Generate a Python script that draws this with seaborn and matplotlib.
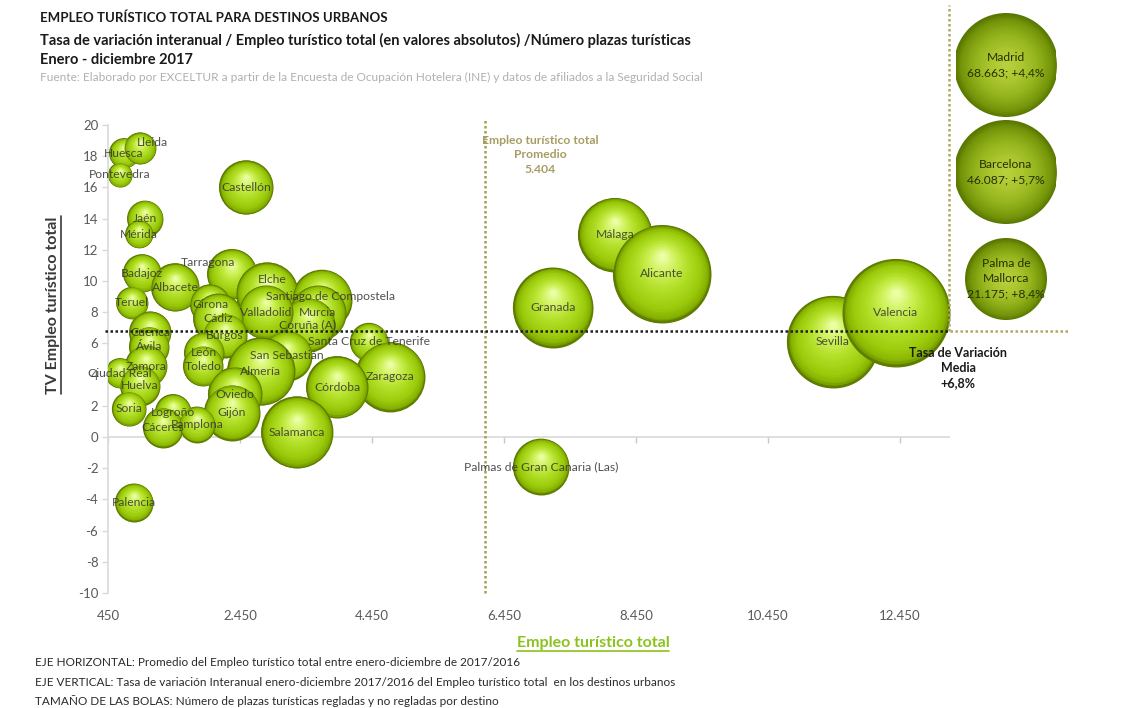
import numpy as np
import pandas as pd
import matplotlib
matplotlib.use("Agg")
import matplotlib.pyplot as plt
import seaborn as sns
from matplotlib import transforms
from matplotlib.lines import Line2D
from matplotlib.colors import to_rgb

# ---------------- data ----------------
ciudades = ["Huesca", "Lleida", "Pontevedra", "Castellón", "Jaén", "Mérida", "Badajoz",
            "Albacete", "Teruel", "Tarragona", "Elche", "Santiago de Compostela", "Murcia",
            "Coruña (A)", "Valladolid", "Girona", "Cádiz", "Burgos", "Santa Cruz de Tenerife",
            "San Sebastián", "Almería", "León", "Toledo", "Zaragoza", "Córdoba", "Oviedo",
            "Gijón", "Salamanca", "Cuenca", "Ávila", "Zamora", "Ciudad Real", "Huelva",
            "Soria", "Logroño", "Cáceres", "Pamplona", "Palencia", "Granada", "Málaga",
            "Alicante", "Sevilla", "Valencia", "Palmas de Gran Canaria (Las)"]
empleo = [692, 935, 632, 2541, 1011, 920, 965, 1465, 814, 2329, 2859, 3692, 3632,
          3480, 2844, 1995, 2117, 2223, 4404, 3162, 2768, 1905, 1889, 4723, 3920, 2374,
          2329, 3314, 1086, 1071, 1026, 632, 935, 768, 1435, 1283, 1798, 844, 7192, 8132,
          8844, 11435, 12389, 7011]
tv_empleo = [18.2, 18.5, 16.8, 16.0, 14.0, 13.0, 10.5, 9.6, 8.6, 10.45, 9.2, 8.8, 7.95,
             7.2, 8.0, 8.5, 7.6, 6.5, 6.1, 5.2, 4.2, 5.4, 4.55, 3.85, 3.2, 2.75,
             1.55, 0.3, 6.7, 5.8, 4.55, 4.1, 3.3, 1.8, 1.6, 0.6, 0.8, -4.2, 8.3, 12.95,
             10.45, 6.1, 7.95, -1.9]
plazas = [2900, 3300, 1900, 9500, 4200, 2500, 4700, 7500, 3300, 8100, 12500, 11700, 10200,
          9500, 9500, 5200, 8100, 6300, 4700, 8100, 15000, 5200, 5200, 15900, 12500, 9500,
          10200, 16800, 5700, 5200, 5700, 2900, 5200, 3800, 4200, 5200, 4200, 4700, 20800,
          17800, 31200, 27500, 37900, 10200]

media_tv = 6.8
linea_promedio_x = 6160
promedio_texto = "Empleo turístico total\nPromedio\n5.404"
media_texto = "Tasa de Variación\nMedia\n+6,8%"

fuera_ciudades = ["Madrid", "Barcelona", "Palma de\nMallorca"]
fuera_empleo = ["68.663", "46.087", "21.175"]
fuera_tv = ["+4,4%", "+5,7%", "+8,4%"]
fuera_radio = [52, 52, 41]

x_ticks = [450, 2450, 4450, 6450, 8450, 10450, 12450]
y_ticks = list(range(-10, 21, 2))

titulo = ["EMPLEO TURÍSTICO TOTAL PARA DESTINOS URBANOS",
          "Tasa de variación interanual / Empleo turístico total (en valores absolutos) /Número plazas turísticas",
          "Enero - diciembre 2017"]
fuente = "Fuente: Elaborado por EXCELTUR a partir de la Encuesta de Ocupación Hotelera (INE) y datos de afiliados a la Seguridad Social"
notas = ["EJE HORIZONTAL: Promedio del Empleo turístico total entre enero-diciembre de 2017/2016",
         "EJE VERTICAL: Tasa de variación Interanual enero-diciembre 2017/2016 del Empleo turístico total  en los destinos urbanos",
         "TAMAÑO DE LAS BOLAS: Número de plazas turísticas regladas y no regladas por destino"]

label_offsets = {"Tarragona": (-17, 8), "Lleida": (9, 4), "Elche": (4, 10),
                 "Santiago de Compostela": (6, 2)}

# ---------------- style ----------------
sns.set_theme(style="white")
FONT = ["Lato", "DejaVu Sans"]
plt.rcParams["font.family"] = FONT
plt.rcParams["axes.unicode_minus"] = False

W, H = 1126, 708
fig = plt.figure(figsize=(W / 100, H / 100), dpi=100)


def fx(x):
    return x / W


def fy(y):
    return 1 - y / H


ax = fig.add_axes([fx(108), fy(593), (950 - 108) / W, (593 - 125) / H])

df = pd.DataFrame({"ciudad": ciudades, "empleo": empleo, "tv": tv_empleo, "plazas": plazas})
k = 2.0736 / 13.0
sns.scatterplot(data=df, x="empleo", y="tv", size="plazas",
                sizes=(k * min(plazas), k * max(plazas)), color="#5c7a00",
                linewidth=0, legend=False, ax=ax, zorder=2)
sizes = ax.collections[0].get_sizes()

ax.set_xlim(450, 13210)
ax.set_ylim(-10, 20)

stops_f = [1.0, 0.94, 0.8, 0.55, 0.3, 0.06]
stops_c = [to_rgb(c) for c in ["#5f7e00", "#86b200", "#9ccb0c", "#b0de26", "#cdf056", "#ecffa6"]]


def color_at(f):
    fs = stops_f[::-1]
    cs = stops_c[::-1]
    return tuple(np.interp(f, fs, [c[i] for c in cs]) for i in range(3))


fracs = np.linspace(0.96, 0.05, 28)
for i, row in df.iterrows():
    s = sizes[i]
    r_pt = np.sqrt(s) / 2
    z = 3 + i * 0.05
    ax.scatter([row.empleo], [row.tv], s=s, color=color_at(1.0), linewidth=0, zorder=z)
    for j, f in enumerate(fracs):
        tr = transforms.offset_copy(ax.transData, fig=fig, x=0, y=0.4 * r_pt * (1 - f), units="points")
        ax.scatter([row.empleo], [row.tv], s=s * f * f, color=color_at(f), linewidth=0,
                   zorder=z + 0.001 * (j + 1), transform=tr)

for i, row in df.iterrows():
    dx, dy = label_offsets.get(row.ciudad, (0, 0))
    ax.annotate(row.ciudad, (row.empleo, row.tv), xytext=(dx, dy), textcoords="offset points",
                ha="center", va="center", fontsize=8.7, color="#333333", alpha=0.85, zorder=20)

# axes styling
for sp in ["top", "right", "bottom"]:
    ax.spines[sp].set_visible(False)
ax.spines["left"].set_color("#d9d9d9")
ax.spines["left"].set_linewidth(1.2)
ax.set_xticks(x_ticks)
ax.set_xticklabels([f"{v:,}".replace(",", ".") for v in x_ticks])
ax.set_yticks(y_ticks)
ax.tick_params(axis="x", length=0, pad=12, labelsize=9.5, labelcolor="#595959")
ax.tick_params(axis="y", length=4, width=1, color="#d9d9d9", pad=3, labelsize=9.5,
               labelcolor="#595959", left=True)
ax.set_xlabel("")
ax.set_ylabel("")
ax.axhline(0, color="#d9d9d9", lw=1.2, zorder=1)
ax.plot(x_ticks, [0] * len(x_ticks), ls="none", marker=3, ms=4, color="#c8c8c8", zorder=1)

# reference lines
ax.axhline(media_tv, xmin=-0.004, xmax=1.0, color="#1e1e1e", lw=1.8, ls=(0, (1, 1)),
           clip_on=False, zorder=30)
ax.axhline(media_tv, xmin=1.0, xmax=(1068 - 108) / 842, color="#b0a860", lw=1.8,
           ls=(0, (1, 1)), clip_on=False, zorder=30)
ax.axvline(13190, ymin=(media_tv + 10) / 30, ymax=(593 - 5) / 468, color="#b0a860", lw=1.8,
           ls=(0, (1, 1)), clip_on=False, zorder=30)
ax.axvline(linea_promedio_x, ymin=0, ymax=(593 - 120) / 468, color="#a8a050", lw=1.8,
           ls=(0, (1, 1)), clip_on=False, zorder=1)

fig.text(fx(540), fy(155), promedio_texto, ha="center", va="center", fontsize=8.7,
         fontweight="bold", color="#a69d63", linespacing=1.35)
fig.text(fx(958), fy(368), media_texto, ha="center", va="center", fontsize=9,
         fontweight="bold", color="#1a1a1a", linespacing=1.3, zorder=40)

# side panel with out-of-scale cities
ax2 = fig.add_axes([fx(956), fy(332.5), 100 / W, 321 / H])
ax2.set_xlim(-1, 1)
ax2.set_ylim(2.5, -0.5)
ax2.axis("off")
side_df = pd.DataFrame({"ciudad": fuera_ciudades, "x": [0, 0, 0], "y": [0, 1, 2]})
side_sizes = [2.0736 * r * r for r in fuera_radio]
sns.scatterplot(data=side_df, x="x", y="y", s=side_sizes, color="#5a7800", linewidth=0,
                legend=False, ax=ax2, zorder=2)
side_stops = [to_rgb(c) for c in ["#5a7800", "#76960a", "#93b31c", "#aac52e", "#bad23e"]]
side_f = [1.0, 0.88, 0.62, 0.35, 0.0]
for i in range(len(fuera_ciudades)):
    for f in np.linspace(0.97, 0.05, 26):
        c = tuple(np.interp(f, side_f[::-1], [cc[j] for cc in side_stops[::-1]]) for j in range(3))
        ax2.scatter([0], [i], s=side_sizes[i] * f * f, color=c, linewidth=0, zorder=3)
    ax2.text(0, i, f"{fuera_ciudades[i]}\n{fuera_empleo[i]}; {fuera_tv[i]}", ha="center",
             va="center", fontsize=8.7, color="#263000", linespacing=1.45, zorder=5)

# titles
fig.text(fx(40), fy(18), titulo[0], ha="left", va="center", fontsize=9.5, fontweight="bold",
         color="#1a1a1a")
fig.text(fx(40), fy(40), titulo[1], ha="left", va="center", fontsize=10.5, fontweight="bold",
         color="#1a1a1a")
fig.text(fx(40), fy(60), titulo[2], ha="left", va="center", fontsize=10.5, fontweight="bold",
         color="#1a1a1a")
fig.text(fx(40), fy(77), fuente, ha="left", va="center", fontsize=8.55, color="#b0b0b0")

for yy, t in zip([663, 683, 701], notas):
    fig.text(fx(35), fy(yy), t, ha="left", va="center", fontsize=8.5, color="#2a2a2a")

xl = fig.text(fx(593), fy(643), "Empleo turístico total", ha="center", va="center",
              fontsize=11.5, fontweight="bold", color="#8cc21e")
yl = fig.text(fx(53), fy(305), "TV Empleo turístico total", ha="center", va="center",
              rotation=90, fontsize=11.5, fontweight="bold", color="#3a3a3a")

fig.canvas.draw()
r = fig.canvas.get_renderer()
bx = xl.get_window_extent(r)
fig.add_artist(Line2D([bx.x0 / W, bx.x1 / W], [(bx.y0 - 1) / H, (bx.y0 - 1) / H],
                      color="#8cc21e", lw=1.2))
by = yl.get_window_extent(r)
fig.add_artist(Line2D([(by.x1 + 1) / W, (by.x1 + 1) / W], [by.y0 / H, by.y1 / H],
                      color="#3a3a3a", lw=1.2))

fig.savefig("out.png", dpi=100)
